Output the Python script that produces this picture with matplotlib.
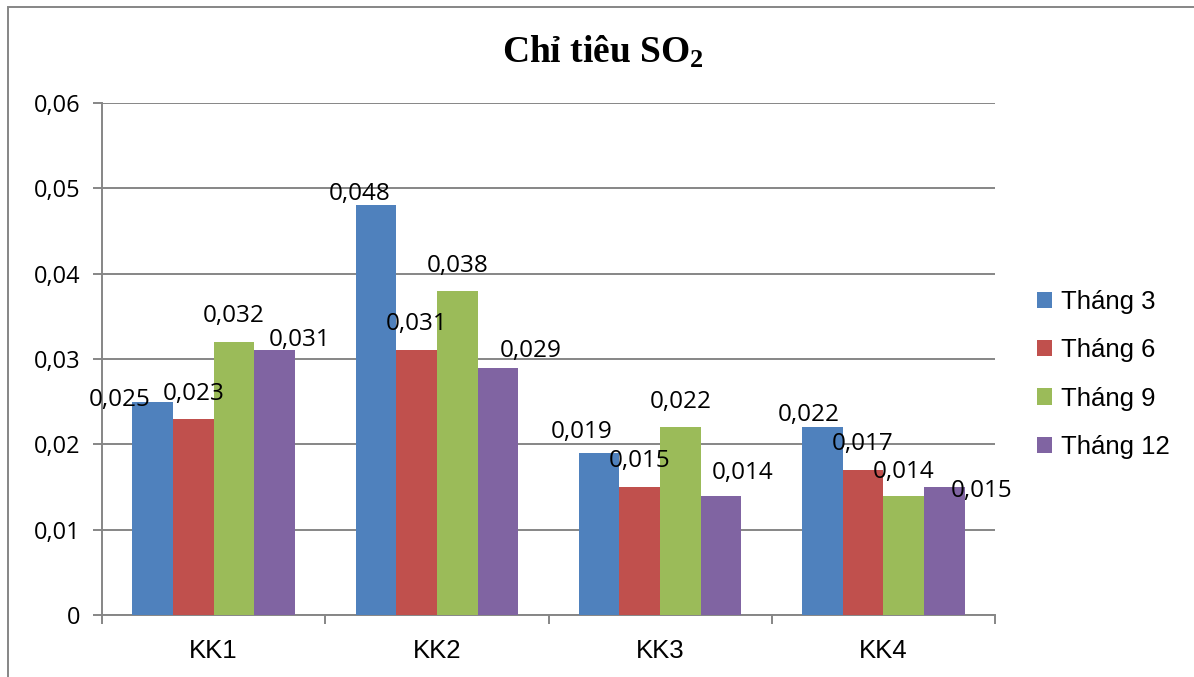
import numpy as np
import matplotlib
matplotlib.use("Agg")
import matplotlib.pyplot as plt
from matplotlib.patches import Rectangle

# SO2 measurements per monitoring point, one series per sampling month
sites = ["KK1", "KK2", "KK3", "KK4"]
months = ["Tháng 3", "Tháng 6", "Tháng 9", "Tháng 12"]
thang3 = [0.025, 0.048, 0.019, 0.022]
thang6 = [0.023, 0.031, 0.015, 0.017]
thang9 = [0.032, 0.038, 0.022, 0.014]
thang12 = [0.031, 0.029, 0.014, 0.015]
yticks = [0, 0.01, 0.02, 0.03, 0.04, 0.05, 0.06]

series = [thang3, thang6, thang9, thang12]
colors = ["#4F81BD", "#C0504D", "#9BBB59", "#8064A2"]

# nudges (px) for the value labels so they don't sit on top of each other
label_nudge = [
    [(-33, 2), (-16, 11), (-18, 21), (-14, 12)],
    [(0, 25), (0, 26), (0, 26), (0, 26)],
    [(0, 26), (0, 25), (0, 25), (0, 24)],
    [(25, 10), (33, 17), (22, 23), (37, -4)],
]

plt.rcParams["mathtext.fontset"] = "custom"
plt.rcParams["mathtext.rm"] = "Liberation Serif:bold"
plt.rcParams["mathtext.default"] = "rm"

W, H = 1194, 677
fig = plt.figure(figsize=(W / 100, H / 100), dpi=100)
ax = fig.add_axes([102 / W, 1 - 615 / H, 893 / W, 512 / H])

grey = "#868686"
x = np.arange(len(sites))
width = 0.182
for i, vals in enumerate(series):
    pos = x + (i - 1.5) * width
    ax.bar(pos, vals, width, color=colors[i], label=months[i], zorder=3)
    for j, v in enumerate(vals):
        dx, dy = label_nudge[i][j]
        ax.annotate(f"{v:g}".replace(".", ","), (pos[j], v),
                    xytext=(dx * 0.72, dy * 0.72), textcoords="offset points",
                    ha="center", va="center", fontsize=17.5, family="Open Sans",
                    zorder=4)

ax.set_xlim(-0.5, len(sites) - 0.5)
ax.set_ylim(0, 0.06)
ax.set_yticks(yticks)
ax.set_yticklabels([f"{t:g}".replace(".", ",") for t in yticks],
                   fontsize=17, family="Open Sans")
ax.yaxis.grid(True, color=grey, linewidth=1.4, zorder=0)

ax.set_xticks(x)
ax.set_xticklabels(sites, fontsize=18.5, family="Liberation Sans")
ax.set_xticks(np.arange(len(sites) + 1) - 0.5, minor=True)
ax.tick_params(axis="x", which="major", length=0, pad=17)
ax.tick_params(axis="x", which="minor", length=6.5, width=1.4, color=grey)
ax.tick_params(axis="y", length=6.5, width=1.4, color=grey, pad=9)

for side in ["top", "right"]:
    ax.spines[side].set_visible(False)
for side in ["left", "bottom"]:
    ax.spines[side].set_color(grey)
    ax.spines[side].set_linewidth(1.4)

fig.text(603 / W, 1 - 63 / H, "Chỉ tiêu SO$_2$", ha="center", va="baseline",
         fontsize=27, family="Liberation Serif", fontweight="bold")

ax.legend(loc="center left", bbox_to_anchor=(1037 / W, 1 - 374.5 / H),
          bbox_transform=fig.transFigure, frameon=False, borderpad=0,
          borderaxespad=0, handlelength=0.6, handleheight=0.6,
          handletextpad=0.32, labelspacing=0.95,
          prop={"family": "Liberation Sans", "size": 18.5})

# outer chart frame (runs off the right and bottom edges)
fig.patches.append(Rectangle((8 / W, -0.1), 1.2, 1.1 - 7 / H,
                             transform=fig.transFigure, fill=False,
                             edgecolor=grey, linewidth=1.4))

fig.savefig("out.png", dpi=100)
